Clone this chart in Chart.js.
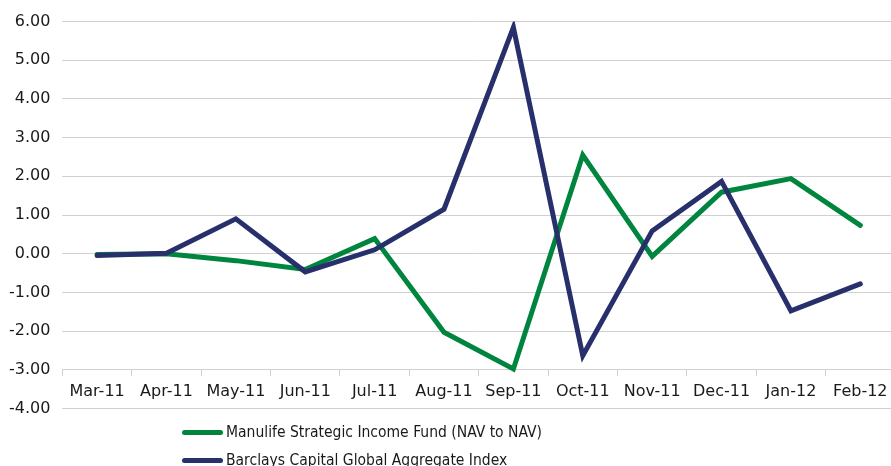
<!DOCTYPE html>
<html>
<head>
<meta charset="utf-8">
<script src="https://cdn.jsdelivr.net/npm/chart.js@4"></script>
<style>
  body { margin: 0; overflow: hidden; background: #fff; width: 891px; height: 466px; position: relative; }
  #wrap { position: absolute; left: -12px; top: 0; width: 907px; height: 430px; }
  #legend { position: absolute; left: 182px; top: 418px; font-family: 'DejaVu Sans Condensed', 'DejaVu Sans', sans-serif; font-size: 15.5px; color: #1a1a1a; }
  .item { height: 28px; line-height: 22px; white-space: nowrap; display: flex; align-items: center; }
  .swatch { display: inline-block; width: 41px; height: 5px; border-radius: 3px; margin-right: 3px; }
</style>
</head>
<body>
<div id="wrap"><canvas id="returns"></canvas></div>
<div id="legend"></div>
<script>
const months = ['Mar-11', 'Apr-11', 'May-11', 'Jun-11', 'Jul-11', 'Aug-11', 'Sep-11', 'Oct-11', 'Nov-11', 'Dec-11', 'Jan-12', 'Feb-12'];
const manulife = [-0.02, 0.00, -0.18, -0.41, 0.39, -2.03, -2.98, 2.55, -0.07, 1.59, 1.94, 0.73];
const barclays = [-0.05, 0.01, 0.90, -0.47, 0.10, 1.15, 5.85, -2.64, 0.59, 1.87, -1.48, -0.78];
const seriesNames = ['Manulife Strategic Income Fund (NAV to NAV)', 'Barclays Capital Global Aggregate Index'];
const seriesColors = ['#00853f', '#27306b'];

const tickFont = { family: 'DejaVu Sans', size: 16 };

const chart = new Chart(document.getElementById('returns'), {
    type: 'line',
    data: {
        labels: months,
        datasets: [{
            label: seriesNames[0],
            data: manulife,
            borderColor: seriesColors[0],
            backgroundColor: seriesColors[0],
            borderWidth: 5,
            pointRadius: 0,
            borderCapStyle: 'round',
            order: 1
        }, {
            label: seriesNames[1],
            data: barclays,
            borderColor: seriesColors[1],
            backgroundColor: seriesColors[1],
            borderWidth: 5,
            pointRadius: 0,
            borderCapStyle: 'round',
            order: 0
        }]
    },
    options: {
        animation: false,
        responsive: true,
        maintainAspectRatio: false,
        events: [],
        layout: { padding: { left: 9, top: 21, right: 0, bottom: 12 } },
        plugins: {
            legend: { display: false },
            tooltip: { enabled: false }
        },
        scales: {
            y: {
                min: -4,
                max: 6,
                ticks: {
                    stepSize: 1,
                    padding: 12,
                    color: '#1a1a1a',
                    font: tickFont,
                    callback: v => v.toFixed(2)
                },
                grid: { color: '#d0d0d0', lineWidth: 1, drawTicks: false },
                border: { display: false }
            },
            x: {
                position: { y: -3 },
                offset: true,
                ticks: { color: '#1a1a1a', font: tickFont, padding: 7, maxRotation: 0, autoSkip: false },
                grid: { offset: true, drawOnChartArea: false, drawTicks: true, tickLength: 6, color: '#d0d0d0' },
                border: { display: true, color: '#d0d0d0' }
            }
        }
    }
});

const legend = document.getElementById('legend');
chart.data.datasets.forEach(ds => {
    const row = document.createElement('div');
    row.className = 'item';
    const sw = document.createElement('span');
    sw.className = 'swatch';
    sw.style.background = ds.borderColor;
    const txt = document.createElement('span');
    txt.textContent = ds.label;
    row.appendChild(sw);
    row.appendChild(txt);
    legend.appendChild(row);
});
</script>
</body>
</html>
